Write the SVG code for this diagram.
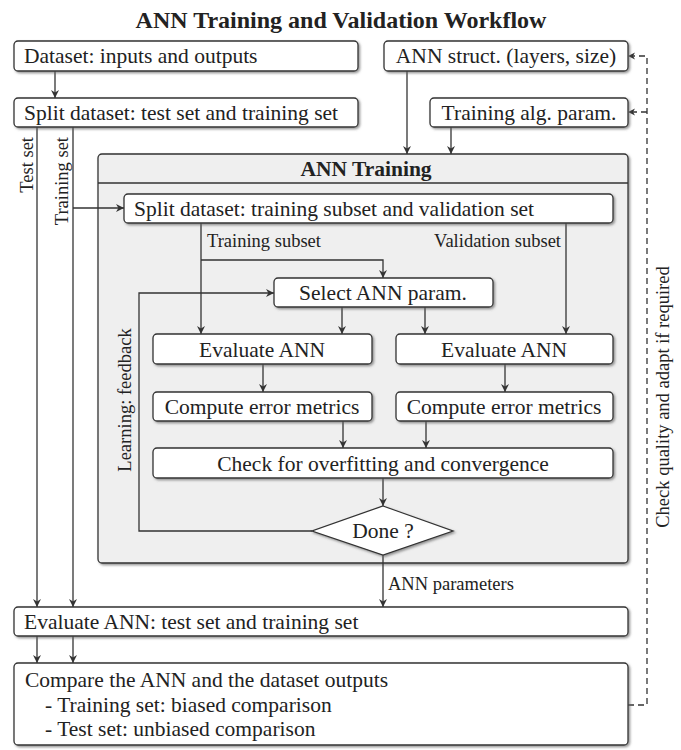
<svg xmlns="http://www.w3.org/2000/svg" width="681" height="750" viewBox="0 0 681 750">
<style>
text{font-family:"Liberation Serif","Times New Roman",serif;fill:#222;}
.t{font-size:21.5px;}
.s{font-size:18.5px;}
.h{font-size:21.5px;font-weight:bold;}
.box{fill:#fff;stroke:#333;stroke-width:1.3;filter:url(#sh);}
.ln{fill:none;stroke:#333;stroke-width:1.3;}
.arr{marker-end:url(#ah);}
.dash{fill:none;stroke:#333;stroke-width:1.3;stroke-dasharray:6 4;}
</style>
<defs>
<filter id="sh" x="-5%" y="-20%" width="110%" height="150%">
<feDropShadow dx="1.5" dy="1.5" stdDeviation="1" flood-color="#666" flood-opacity="0.7"/>
</filter>
<marker id="ah" viewBox="0 0 10 10" refX="10" refY="5" markerWidth="8" markerHeight="8" markerUnits="userSpaceOnUse" orient="auto">
<path d="M0,0 L10,5 L0,10 L3,5 z" fill="#333"/>
</marker>
</defs>
<rect width="681" height="750" fill="#fff"/>
<text x="341" y="28" text-anchor="middle" class="h" style="font-size:24px">ANN Training and Validation Workflow</text>

<g id="container">
<rect x="98" y="154" width="530" height="409" rx="4" fill="#efefef" stroke="#333" stroke-width="1.3" filter="url(#sh)"/>
<line x1="98" y1="183" x2="628" y2="183" stroke="#333" stroke-width="1.3"/>
<text x="366" y="176" text-anchor="middle" class="h">ANN Training</text>
</g>

<g id="connectors">
<line class="ln arr" x1="55" y1="71" x2="55" y2="98"/>
<line class="ln arr" x1="407" y1="71" x2="407" y2="154"/>
<line class="ln arr" x1="451" y1="127" x2="451" y2="154"/>
<line class="ln arr" x1="37" y1="127" x2="37" y2="607"/>
<line class="ln arr" x1="73" y1="127" x2="73" y2="607"/>
<polyline class="ln arr" points="73,208 124,208"/>
<line class="ln arr" x1="37" y1="636" x2="37" y2="663"/>
<line class="ln arr" x1="73" y1="636" x2="73" y2="663"/>
<line class="ln arr" x1="201" y1="223" x2="201" y2="334"/>
<polyline class="ln arr" points="201,260 383,260 383,278"/>
<line class="ln arr" x1="566" y1="223" x2="566" y2="334"/>
<line class="ln arr" x1="342" y1="307" x2="342" y2="334"/>
<line class="ln arr" x1="425" y1="307" x2="425" y2="334"/>
<line class="ln arr" x1="263" y1="364" x2="263" y2="392"/>
<line class="ln arr" x1="505" y1="364" x2="505" y2="392"/>
<line class="ln arr" x1="343" y1="421" x2="343" y2="448"/>
<line class="ln arr" x1="426" y1="421" x2="426" y2="448"/>
<line class="ln arr" x1="383" y1="478" x2="383" y2="506"/>
<polyline class="ln arr" points="312,531 139,531 139,293 274,293"/>
<line class="ln arr" x1="383" y1="555" x2="383" y2="607"/>
<polyline class="dash" points="628,705 647,705 647,56 630,56"/>
<line class="dash" x1="647" y1="112" x2="630" y2="112"/>
<path d="M628,56 l7,-3.5 l-2,3.5 l2,3.5 z M628,112 l7,-3.5 l-2,3.5 l2,3.5 z" fill="#333"/>
<text x="207" y="247" class="s">Training subset</text>
<text x="561" y="247" class="s" text-anchor="end">Validation subset</text>
<text x="388" y="590" class="s">ANN parameters</text>
<text transform="translate(33,137) rotate(-90)" class="s" text-anchor="end">Test set</text>
<text transform="translate(68,137) rotate(-90)" class="s" text-anchor="end">Training set</text>
<text transform="translate(131,400) rotate(-90)" class="s" text-anchor="middle">Learning: feedback</text>
<text transform="translate(669,397) rotate(-90)" class="s" text-anchor="middle">Check quality and adapt if required</text>
</g>

<g id="n-dataset"><rect class="box" x="14" y="41" width="344" height="30" rx="4"/><text x="24" y="63" class="t">Dataset: inputs and outputs</text></g>
<g id="n-struct"><rect class="box" x="384" y="41" width="244" height="30" rx="4"/><text x="506" y="63" class="t" text-anchor="middle">ANN struct. (layers, size)</text></g>
<g id="n-split1"><rect class="box" x="14" y="98" width="344" height="29" rx="4"/><text x="24" y="120" class="t">Split dataset: test set and training set</text></g>
<g id="n-alg"><rect class="box" x="430" y="98" width="198" height="29" rx="4"/><text x="529" y="120" class="t" text-anchor="middle">Training alg. param.</text></g>
<g id="n-split2"><rect class="box" x="124" y="194" width="489" height="29" rx="4"/><text x="134" y="216" class="t">Split dataset: training subset and validation set</text></g>
<g id="n-select"><rect class="box" x="274" y="278" width="219" height="29" rx="4"/><text x="383" y="300" class="t" text-anchor="middle">Select ANN param.</text></g>
<g id="n-eval1"><rect class="box" x="153" y="334" width="219" height="30" rx="4"/><text x="262" y="357" class="t" text-anchor="middle">Evaluate ANN</text></g>
<g id="n-eval2"><rect class="box" x="396" y="334" width="217" height="30" rx="4"/><text x="504" y="357" class="t" text-anchor="middle">Evaluate ANN</text></g>
<g id="n-err1"><rect class="box" x="153" y="392" width="219" height="29" rx="4"/><text x="262" y="414" class="t" text-anchor="middle">Compute error metrics</text></g>
<g id="n-err2"><rect class="box" x="396" y="392" width="217" height="29" rx="4"/><text x="504" y="414" class="t" text-anchor="middle">Compute error metrics</text></g>
<g id="n-check"><rect class="box" x="153" y="448" width="460" height="30" rx="4"/><text x="383" y="471" class="t" text-anchor="middle">Check for overfitting and convergence</text></g>
<g id="n-done"><polygon points="383,506 453,531 383,555 312,531" fill="#fff" stroke="#333" stroke-width="1.3" filter="url(#sh)"/><text x="383" y="538" class="t" text-anchor="middle">Done ?</text></g>
<g id="n-evaltest"><rect class="box" x="14" y="607" width="614" height="29" rx="4"/><text x="24" y="629" class="t">Evaluate ANN: test set and training set</text></g>
<g id="n-compare"><rect class="box" x="14" y="663" width="614" height="82" rx="4"/>
<text x="25" y="687" class="t">Compare the ANN and the dataset outputs</text>
<text x="45" y="712" class="t">- Training set: biased comparison</text>
<text x="45" y="736" class="t">- Test set: unbiased comparison</text></g>
</svg>
